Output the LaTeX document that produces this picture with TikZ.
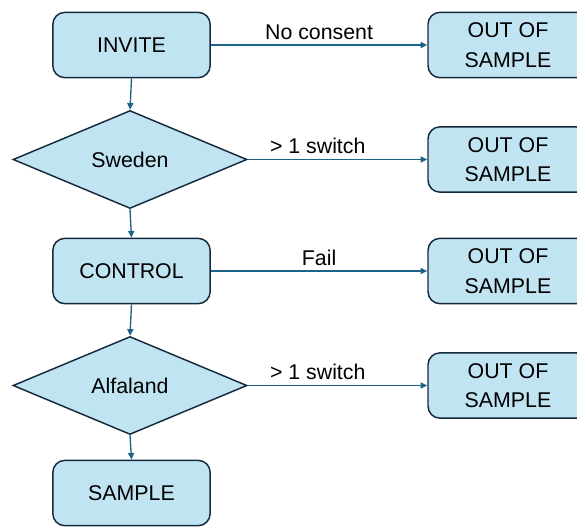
\documentclass[tikz,border=0pt]{standalone}
\usepackage{fontspec}
\setmainfont{Liberation Sans}
\usetikzlibrary{shapes.geometric, arrows.meta}
\definecolor{boxfill}{RGB}{193,228,242}
\definecolor{boxline}{RGB}{22,42,62}
\definecolor{arrowline}{RGB}{30,98,135}

\begin{document}
\begin{tikzpicture}[x=0.75pt,y=0.75pt,yscale=-1,xscale=1,
  stepbox/.style={draw=boxline, fill=boxfill, line width=1.1pt, rounded corners=9pt,
    minimum width=118pt, minimum height=49pt, align=center, font=\fontsize{16}{22}\selectfont},
  outbox/.style={stepbox, minimum width=120pt},
  choice/.style={diamond, draw=boxline, fill=boxfill, line width=1.1pt, inner sep=0pt,
    minimum width=175.5pt, minimum height=73.5pt, font=\fontsize{16}{22}\selectfont},
  flow/.style={draw=arrowline, line width=1pt, -{Triangle[length=5pt,width=4.5pt]}},
  lbl/.style={above, inner sep=3.5pt, font=\fontsize{16}{22}\selectfont}]
\useasboundingbox (0,0) rectangle (577,526);

% Text Node
\node [stepbox] (invite) at (131.5,45) {INVITE};
% Text Node
\node [choice] (sweden) at (130,159.5) {Sweden};
% Text Node
\node [stepbox] (control) at (131.5,271) {CONTROL};
% Text Node
\node [choice] (alfaland) at (130,385.5) {Alfaland};
% Text Node
\node [stepbox] (sample) at (131.5,493) {SAMPLE};

% Text Node
\node [outbox] (outa) at (508,45) {OUT OF\\SAMPLE};
% Text Node
\node [outbox] (outb) at (508,159.5) {OUT OF\\SAMPLE};
% Text Node
\node [outbox] (outc) at (508,271) {OUT OF\\SAMPLE};
% Text Node
\node [outbox] (outd) at (508,385.5) {OUT OF\\SAMPLE};

%Straight Lines
\draw [flow] (invite.south) -- (sweden.north);
\draw [flow] (sweden.south) -- (control.north);
\draw [flow] (control.south) -- (alfaland.north);
\draw [flow] (alfaland.south) -- (sample.north);

%Straight Lines
\draw [flow] (invite.east) -- node [lbl, pos=0.5] {No consent} (outa.west);
\draw [flow] (sweden.east) -- node [lbl, pos=0.39] {> 1 switch} (outb.west);
\draw [flow] (control.east) -- node [lbl, pos=0.5] {Fail} (outc.west);
\draw [flow] (alfaland.east) -- node [lbl, pos=0.39] {> 1 switch} (outd.west);

\end{tikzpicture}
\end{document}
